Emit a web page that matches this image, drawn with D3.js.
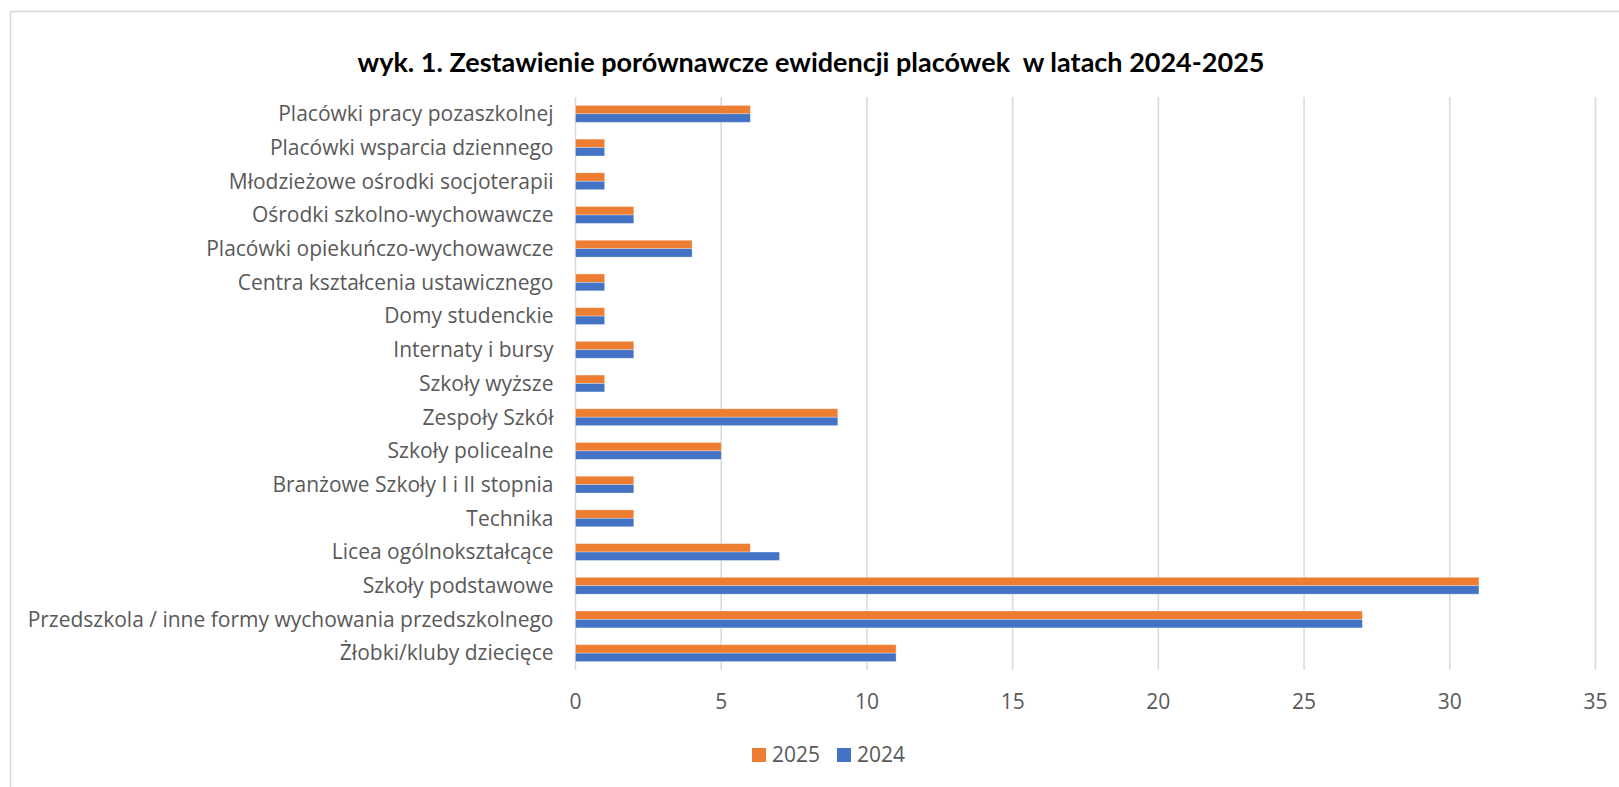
<!DOCTYPE html>
<html>
<head>
<meta charset="utf-8">
<script src="https://cdn.jsdelivr.net/npm/d3@7"></script>
<style>
  body { margin: 0; background: #fff; }
  svg { display: block; }
</style>
</head>
<body>
<div id="chart-area"></div>
<script>
// categories top to bottom, as in the picture
var categories = [
    "Placówki pracy pozaszkolnej",
    "Placówki wsparcia dziennego",
    "Młodzieżowe ośrodki socjoterapii",
    "Ośrodki szkolno-wychowawcze",
    "Placówki opiekuńczo-wychowawcze",
    "Centra kształcenia ustawicznego",
    "Domy studenckie",
    "Internaty i bursy",
    "Szkoły wyższe",
    "Zespoły Szkół",
    "Szkoły policealne",
    "Branżowe Szkoły I i II stopnia",
    "Technika",
    "Licea ogólnokształcące",
    "Szkoły podstawowe",
    "Przedszkola / inne formy wychowania przedszkolnego",
    "Żłobki/kluby dziecięce"
];
var values2025 = [6, 1, 1, 2, 4, 1, 1, 2, 1, 9, 5, 2, 2, 6, 31, 27, 11];
var values2024 = [6, 1, 1, 2, 4, 1, 1, 2, 1, 9, 5, 2, 2, 7, 31, 27, 11];
var seriesNames = ["2025", "2024"];
var seriesColors = ["#ED7D31", "#4472C4"];
var xTicks = [0, 5, 10, 15, 20, 25, 30, 35];

var width = 1619, height = 787;
var margin = { left: 575.5, right: 23.5, top: 97, bottom: 117 };

var svg = d3.select("#chart-area")
    .append("svg")
    .attr("width", width)
    .attr("height", height);

// chart frame
svg.append("rect")
    .attr("x", 10.5).attr("y", 11.5)
    .attr("width", width + 20).attr("height", height + 20)
    .attr("fill", "none")
    .attr("stroke", "#d9d9d9")
    .attr("stroke-width", 1.5);

svg.append("text")
    .attr("x", 811).attr("y", 72)
    .attr("text-anchor", "middle")
    .style("font-family", "Lato")
    .style("font-weight", "bold")
    .style("font-size", "27px")
    .attr("fill", "#000")
    .text("wyk. 1. Zestawienie porównawcze ewidencji placówek\u00a0 w latach 2024-2025");

var g = svg.append("g")
    .attr("transform", "translate(" + margin.left + ", " + margin.top + ")");

var w = width - margin.left - margin.right,
    h = height - margin.top - margin.bottom;

var x = d3.scaleLinear().domain([0, 35]).range([0, w]);
var y = d3.scaleBand().domain(categories).range([0, h]).paddingInner(0.5).paddingOuter(0.25);
var ySub = d3.scaleBand().domain(seriesNames).range([0, y.bandwidth()]);

// gridlines
g.selectAll(".grid")
    .data(xTicks)
    .enter()
    .append("line")
    .attr("x1", function (d) { return x(d); })
    .attr("x2", function (d) { return x(d); })
    .attr("y1", 0).attr("y2", h)
    .attr("stroke", "#d9d9d9")
    .attr("stroke-width", 1.5);

// tick labels
g.selectAll(".tick-label")
    .data(xTicks)
    .enter()
    .append("text")
    .attr("x", function (d) { return x(d); })
    .attr("y", h + 39)
    .attr("text-anchor", "middle")
    .style("font-family", "Open Sans")
    .style("font-size", "21px")
    .attr("fill", "#595959")
    .text(function (d) { return d; });

// category labels
g.selectAll(".cat-label")
    .data(categories)
    .enter()
    .append("text")
    .attr("x", -22)
    .attr("y", function (d) { return y(d) + y.bandwidth() / 2; })
    .attr("dy", "0.35em")
    .attr("text-anchor", "end")
    .style("font-family", "Open Sans")
    .style("font-size", "21px")
    .attr("fill", "#595959")
    .text(function (d) { return d; });

var series = [values2025, values2024];
series.forEach(function (vals, si) {
    g.selectAll(".bar-" + si)
        .data(categories)
        .enter()
        .append("rect")
        .attr("x", x(0))
        .attr("y", function (d) { return y(d) + ySub(seriesNames[si]); })
        .attr("width", function (d, i) { return x(vals[i]) - x(0); })
        .attr("height", ySub.bandwidth())
        .attr("fill", seriesColors[si])
        .attr("stroke", "#fff")
        .attr("stroke-opacity", 0.4)
        .attr("stroke-width", 0.75);
});

// legend
var legend = svg.append("g").attr("transform", "translate(752, 748)");
var legX = [0, 85];
seriesNames.forEach(function (name, i) {
    legend.append("rect")
        .attr("x", legX[i]).attr("y", 0)
        .attr("width", 14).attr("height", 14)
        .attr("fill", seriesColors[i]);
    legend.append("text")
        .attr("x", legX[i] + 20).attr("y", 7)
        .attr("dy", "0.35em")
        .style("font-family", "Open Sans")
        .style("font-size", "21px")
        .attr("fill", "#595959")
        .text(name);
});
</script>
</body>
</html>
